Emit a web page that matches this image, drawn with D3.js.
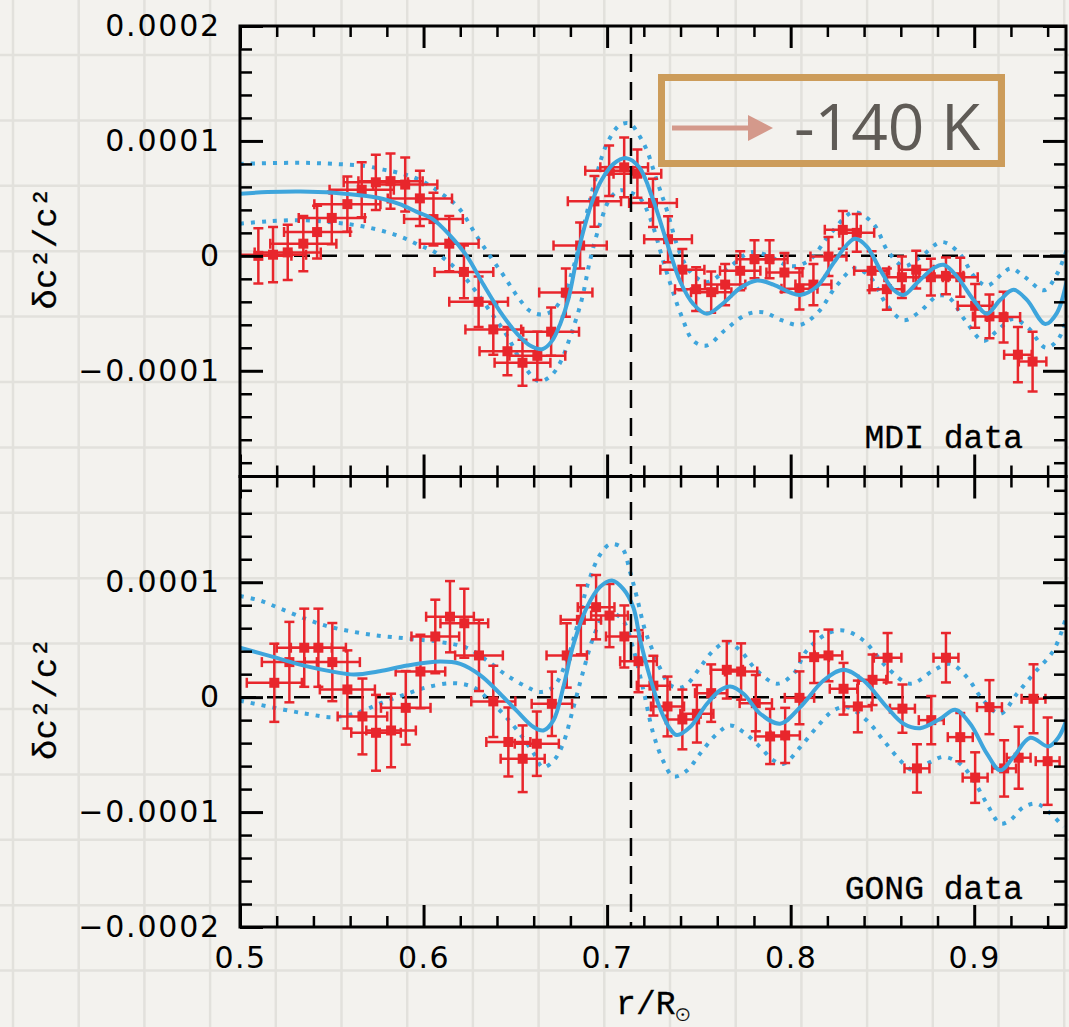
<!DOCTYPE html>
<html>
<head>
<meta charset="utf-8">
<script src="https://cdn.jsdelivr.net/npm/d3@7"></script>
<style>
  html, body { margin: 0; padding: 0; background: #f3f2ee; }
  svg { display: block; }
</style>
</head>
<body>
<div id="chart"></div>
<script>
// Width and height
var chart_width  = 1069;
var chart_height = 1027;

// radius of the base of the convection zone
var czBase = 0.713;

var xMajor = [0.5, 0.6, 0.7, 0.8, 0.9];

// MDI inversion points: r/R, dc2/c2 (units of 1e-5), vertical and radial errors
var mdiR = [0.510,0.518,0.526,0.5345,0.542,0.550,0.5585,0.5663,0.574,0.582,
            0.590,0.598,0.6054,0.614,0.622,0.630,0.638,0.6457,0.6539,0.662,
            0.6695,0.6775,0.6853,0.6931,0.7011,0.7093,0.7165,0.7250,0.7332,0.741,
            0.7485,0.7567,0.7643,0.7725,0.7803,0.7885,0.7966,0.8048,0.8124,0.8206,
            0.8284,0.836,0.8441,0.8524,0.8606,0.8684,0.8764,0.8846,0.8924,0.9005,
            0.9083,0.916,0.9238,0.9318];
var mdiV = [0.0,0.1,0.3,1.06,2.07,3.3,4.5,5.75,6.4,6.5,
            6.2,5.0,3.2,1.06,-1.4,-4.0,-6.4,-8.3,-9.3,-8.7,
            -6.6,-3.2,0.9,4.74,7.4,7.7,7.15,4.6,1.45,-1.2,
            -2.9,-3.16,-2.5,-1.3,-0.29,-0.29,-1.45,-2.87,-2.5,-0.06,
            2.26,2.0,-1.3,-2.9,-1.86,-1.2,-1.86,-1.74,-1.86,-4.35,
            -5.27,-5.33,-8.6,-9.2];
var mdiErr = [2.4,2.4,2.4,2.4,2.3,2.3,2.4,2.4,2.4,2.4,
              2.35,2.4,2.3,2.4,2.3,2.2,2.2,2.1,2.0,2.1,
              2.1,2.1,2.0,2.2,2.2,2.6,2.1,2.1,2.0,1.8,
              1.9,1.8,1.8,1.7,1.65,1.65,1.7,1.8,1.8,1.7,
              1.65,1.65,1.7,1.8,1.8,1.65,1.6,1.6,1.7,1.9,
              1.9,2.2,2.4,2.6];
var mdiRErr = [0.018,0.018,0.018,0.018,0.018,0.018,0.018,0.0175,0.0175,0.0175,
               0.0175,0.0175,0.016,0.016,0.016,0.016,0.0152,0.0152,0.0152,0.0152,
               0.0152,0.0145,0.0145,0.0145,0.013,0.013,0.013,0.013,0.013,0.012,
               0.0115,0.011,0.011,0.011,0.0098,0.0098,0.0098,0.0098,0.0098,0.0098,
               0.0098,0.0095,0.0095,0.0095,0.0095,0.0095,0.0095,0.0095,0.0095,0.0095,
               0.009,0.009,0.0075,0.0075];

// GONG inversion points
var gongR = [0.5187,0.5269,0.535,0.5427,0.5503,0.5585,0.5667,0.5741,0.5823,0.5903,
             0.5983,0.6064,0.6144,0.6222,0.6302,0.638,0.6462,0.654,0.6617,0.6699,
             0.678,0.6857,0.694,0.7013,0.7094,0.7171,0.7252,0.7329,0.741,0.7489,
             0.7567,0.7652,0.773,0.781,0.7888,0.797,0.8048,0.8128,0.8206,0.8288,
             0.8366,0.8446,0.8528,0.8609,0.8688,0.8766,0.8846,0.8924,0.9005,0.9083,
             0.9163,0.9242,0.9323,0.94];
var gongV = [1.25,3.05,4.3,4.3,3.05,0.67,-1.68,-3.1,-2.9,-0.93,
             2.23,5.28,7.0,6.43,3.63,-0.37,-3.9,-5.36,-4.05,-0.58,
             3.63,6.73,7.83,7.1,5.28,3.13,1.0,-0.81,-1.94,-1.45,
             0.35,2.38,2.23,-0.52,-3.42,-3.33,-0.06,3.48,3.63,0.73,
             -0.81,1.51,3.43,-1.0,-6.2,-2.0,3.43,-3.48,-7.0,-0.87,
             -6.2,-5.27,-0.14,-5.57];
var gongErr = [3.4,3.5,3.4,3.4,3.4,3.4,3.3,3.3,3.2,3.2,
               3.2,3.2,3.1,3.0,3.1,3.1,3.0,2.9,2.8,2.8,
               2.8,3.0,2.8,2.75,2.7,2.7,2.6,2.6,2.6,2.5,
               2.5,2.5,2.45,2.45,2.4,2.4,2.3,2.25,2.25,2.25,
               2.25,2.2,2.15,2.1,2.1,2.1,2.15,2.1,2.2,2.35,
               2.45,2.7,3.0,3.8];
var gongRErr = [0.015,0.015,0.015,0.015,0.015,0.015,0.0135,0.0135,0.0135,0.0135,
                0.0135,0.013,0.013,0.013,0.013,0.012,0.012,0.012,0.012,0.011,
                0.011,0.011,0.010,0.010,0.010,0.010,0.009,0.009,0.009,0.009,
                0.0088,0.0088,0.0088,0.0088,0.008,0.008,0.008,0.008,0.0075,0.0075,
                0.0075,0.0075,0.0075,0.0068,0.0068,0.0068,0.0068,0.0068,0.0068,0.0068,
                0.0065,0.0065,0.0065,0.0065];

// model difference curves [r, dc2/c2 in 1e-5], with upper / lower bounds
var mdiFit = [[0.500,5.40],[0.515,5.55],[0.533,5.60],[0.551,5.50],[0.569,5.20],[0.578,4.95],
  [0.587,4.50],[0.596,3.85],[0.605,3.20],[0.614,1.85],[0.6235,0.0],[0.6326,-2.5],[0.6417,-4.85],
  [0.6508,-6.75],[0.6585,-7.85],[0.6650,-8.10],[0.6700,-7.40],[0.6745,-5.90],[0.6790,-3.70],
  [0.6835,-0.2],[0.6880,2.7],[0.6925,5.0],[0.6970,6.6],[0.7035,8.0],[0.7105,8.5],[0.7175,7.7],
  [0.7250,4.9],[0.7325,1.2],[0.7400,-2.3],[0.7470,-4.2],[0.7543,-5.04],[0.7634,-4.1],
  [0.7725,-2.8],[0.7816,-2.14],[0.7906,-2.5],[0.7997,-3.19],[0.8052,-3.40],[0.8143,-2.67],
  [0.8233,-0.64],[0.8306,0.96],[0.8351,1.48],[0.8415,0.81],[0.8488,-1.22],[0.8560,-2.96],
  [0.8615,-3.40],[0.8688,-2.37],[0.8778,-1.07],[0.8833,-0.78],[0.8906,-1.80],[0.8996,-3.83],
  [0.9069,-5.04],[0.9142,-3.83],[0.9214,-2.96],[0.9287,-3.83],[0.9387,-5.94],[0.9450,-4.98],
  [0.9505,-2.10]];
var mdiHi = [[0.500,8.0],[0.533,8.1],[0.551,8.0],[0.569,7.8],[0.578,7.5],[0.587,7.2],[0.598,6.6],
  [0.609,5.5],[0.619,4.2],[0.629,1.7],[0.6370,-0.2],[0.6440,-1.8],[0.6510,-3.5],[0.6580,-4.8],
  [0.6640,-5.1],[0.6700,-4.8],[0.6760,-3.5],[0.6820,-0.8],[0.6880,3.1],[0.6935,6.6],[0.7000,9.8],
  [0.7071,11.4],[0.7125,11.5],[0.7170,10.6],[0.7216,9.2],[0.7270,6.6],[0.7325,4.0],[0.7398,0.2],
  [0.7460,-1.5],[0.7543,-2.3],[0.7650,-1.2],[0.7780,0.3],[0.7880,0.0],[0.8000,-0.9],[0.8100,-0.4],
  [0.8220,2.0],[0.8342,3.8],[0.8450,2.8],[0.8530,0.4],[0.8615,-0.9],[0.8700,-0.2],[0.8824,1.2],
  [0.8920,0.2],[0.9000,-1.8],[0.9070,-2.6],[0.9150,-1.6],[0.9200,-1.1],[0.9280,-1.9],[0.9380,-3.0],
  [0.9450,-1.6],[0.9510,0.8]];
var mdiLo = [[0.500,2.8],[0.515,3.0],[0.533,3.1],[0.551,2.9],[0.569,2.5],[0.587,1.7],[0.598,0.9],
  [0.6054,0.4],[0.614,-0.6],[0.622,-1.8],[0.629,-3.2],[0.6370,-5.0],[0.6453,-6.9],[0.6544,-9.5],
  [0.6626,-10.9],[0.6690,-10.5],[0.6744,-9.3],[0.6800,-7.0],[0.6862,-3.8],[0.6907,-0.4],
  [0.6962,2.8],[0.7016,5.0],[0.7070,5.7],[0.7130,5.5],[0.7180,5.0],[0.7234,3.3],[0.7320,-1.2],
  [0.7407,-5.3],[0.7470,-7.4],[0.7543,-7.8],[0.7640,-6.5],[0.7760,-5.1],[0.7850,-4.9],
  [0.7950,-5.6],[0.8052,-6.0],[0.8150,-4.9],[0.8250,-2.6],[0.8350,-1.1],[0.8430,-1.8],
  [0.8530,-4.4],[0.8615,-5.6],[0.8700,-4.9],[0.8800,-3.5],[0.8860,-3.6],[0.8950,-5.6],
  [0.9050,-7.4],[0.9120,-6.6],[0.9210,-5.5],[0.9290,-6.2],[0.9390,-8.0],[0.9460,-7.2],[0.9510,-5.0]];

var gongFit = [[0.500,4.3],[0.518,3.5],[0.536,2.7],[0.551,2.2],[0.562,1.97],[0.576,2.25],
  [0.591,2.75],[0.609,3.1],[0.620,2.9],[0.631,1.9],[0.6417,0.3],[0.6508,-1.2],[0.6599,-2.6],
  [0.6653,-2.9],[0.6708,-2.0],[0.6762,0.9],[0.6817,4.6],[0.6889,7.8],[0.6962,9.6],[0.7026,10.15],
  [0.7089,9.4],[0.7143,7.8],[0.7180,5.0],[0.7234,1.7],[0.7289,-1.0],[0.7343,-2.75],[0.7380,-3.3],
  [0.7452,-2.6],[0.7543,-0.6],[0.7616,0.6],[0.7670,0.93],[0.7743,0.3],[0.7834,-1.44],
  [0.7943,-2.31],[0.8052,-0.87],[0.8179,1.45],[0.8288,2.38],[0.8397,1.45],[0.8524,-0.87],
  [0.8615,-2.31],[0.8706,-2.7],[0.8815,-1.88],[0.8896,-1.1],[0.8978,-2.31],[0.9069,-4.92],
  [0.9142,-6.37],[0.9214,-5.2],[0.9305,-3.53],[0.9405,-4.29],[0.9460,-3.48],[0.9505,-1.88]];
var gongHi = [[0.500,8.8],[0.511,8.4],[0.522,7.7],[0.536,6.8],[0.547,6.2],[0.558,5.8],[0.573,5.4],
  [0.591,5.1],[0.609,4.8],[0.6235,4.3],[0.6344,3.2],[0.6453,1.9],[0.6562,0.9],[0.6635,0.45],
  [0.6708,0.9],[0.678,3.2],[0.6835,6.1],[0.6898,10.0],[0.6962,12.4],[0.7016,13.3],[0.708,13.0],
  [0.7125,10.9],[0.7162,8.7],[0.7207,5.8],[0.7252,3.9],[0.7289,2.5],[0.7340,1.1],[0.7390,0.8],
  [0.7434,1.1],[0.7507,2.6],[0.7579,4.06],[0.7652,4.78],[0.7725,4.06],[0.7816,2.32],[0.7925,1.17],
  [0.8015,2.03],[0.8088,4.06],[0.8197,5.5],[0.8288,5.8],[0.8397,4.93],[0.8524,2.6],[0.8651,1.17],
  [0.8778,2.32],[0.8869,2.9],[0.8960,1.74],[0.9050,-0.29],[0.9142,-1.44],[0.9233,0.3],
  [0.9323,2.03],[0.9432,4.06],[0.9496,6.67]];
var gongLo = [[0.500,-0.3],[0.518,-0.9],[0.536,-1.44],[0.551,-1.74],[0.565,-1.3],[0.576,-0.57],
  [0.591,0.3],[0.602,0.87],[0.616,1.22],[0.627,0.87],[0.636,-0.29],[0.645,-1.74],[0.654,-3.5],
  [0.660,-4.9],[0.665,-6.1],[0.671,-5.5],[0.676,-4.05],[0.6817,-0.87],[0.6871,2.32],[0.6925,5.2],
  [0.6980,7.0],[0.7034,7.3],[0.7090,6.6],[0.7143,4.2],[0.7198,0.6],[0.7252,-3.2],[0.7307,-5.6],
  [0.7361,-6.9],[0.7434,-6.4],[0.7507,-4.9],[0.7598,-3.2],[0.7670,-2.46],[0.7743,-3.04],
  [0.7834,-4.35],[0.7906,-5.5],[0.7961,-5.8],[0.8052,-4.35],[0.8143,-2.6],[0.8233,-1.16],
  [0.8306,-0.87],[0.8415,-2.03],[0.8506,-3.77],[0.8615,-5.8],[0.8669,-6.37],[0.8760,-5.65],
  [0.8833,-5.2],[0.8924,-5.8],[0.8996,-7.24],[0.9069,-9.27],[0.9142,-11.0],[0.9196,-10.7],
  [0.9269,-9.57],[0.9341,-9.27],[0.9414,-10.1],[0.9487,-11.3]];

var blue = '#3ea5dc';
var red  = '#e8262c';
var monoFont = "'Liberation Mono', 'Courier New', Cousine, FreeMono, monospace";
var tickFont = "'DejaVu Sans', sans-serif";

var x = d3.scaleLinear().domain([0.5, 0.95]).range([240, 1066]);

var panels = [
  { id: 'mdi',  y0: 26,    y1: 476.5, domain: [-19.2, 20], ticks: [-10, 0, 10, 20], label: 'MDI data',
    r: mdiR, v: mdiV, err: mdiErr, rerr: mdiRErr, fit: mdiFit, hi: mdiHi, lo: mdiLo, xLabels: false },
  { id: 'gong', y0: 476.5, y1: 927,   domain: [-20, 19.2], ticks: [-20, -10, 0, 10], label: 'GONG data',
    r: gongR, v: gongV, err: gongErr, rerr: gongRErr, fit: gongFit, hi: gongHi, lo: gongLo, xLabels: true }
];

var svg = d3.select('#chart')
    .append('svg')
    .attr('width', chart_width)
    .attr('height', chart_height);

// graph paper background
var defs = svg.append('defs');
defs.append('filter').attr('id', 'soft')
    .append('feGaussianBlur').attr('stdDeviation', 0.7);

svg.append('rect')
    .attr('width', chart_width)
    .attr('height', chart_height)
    .attr('fill', '#f3f2ee');
var paper = svg.append('g')
    .attr('stroke', '#e2e1dc')
    .attr('stroke-width', 2.5)
    .attr('filter', 'url(#soft)');
d3.range(13, chart_width, 65.7).forEach(function(px){
    paper.append('line').attr('x1', px).attr('x2', px).attr('y1', 0).attr('y2', chart_height);
});
d3.range(55, chart_height, 65.4).forEach(function(py){
    paper.append('line').attr('y1', py).attr('y2', py).attr('x1', 0).attr('x2', chart_width);
});

function fmtY(d){
    if (d === 0) return '0';
    return (d < 0 ? '\u2212' : '') + Math.abs(d * 1e-5).toFixed(4);
}

var xMinor = d3.range(25, 48).map(function(k){ return k / 50; })
    .filter(function(t){ return Math.round(t * 100) % 10 !== 0; });

function styleTicks(g, w){
    g.select('.domain').remove();
    g.selectAll('.tick line').attr('stroke', '#000').attr('stroke-width', w);
}

panels.forEach(function(p){
    var y = d3.scaleLinear().domain(p.domain).range([p.y1, p.y0]);
    var yMinor = d3.range(-20, 21, 2).filter(function(t){
        return t % 10 !== 0 && t >= p.domain[0] && t <= p.domain[1];
    });

    var clipId = 'clip-' + p.id;
    defs.append('clipPath').attr('id', clipId)
        .append('rect')
        .attr('x', x(0.5)).attr('y', p.y0)
        .attr('width', x(0.95) - x(0.5)).attr('height', p.y1 - p.y0);

    var plot = svg.append('g').attr('clip-path', 'url(#' + clipId + ')');

    // zero line
    plot.append('line')
        .attr('x1', x(0.5)).attr('x2', x(0.95))
        .attr('y1', y(0)).attr('y2', y(0))
        .attr('stroke', '#000').attr('stroke-width', 2.5)
        .attr('stroke-dasharray', '16,11');

    var line = d3.line()
        .x(function(d){ return x(d[0]); })
        .y(function(d){ return y(d[1]); })
        .curve(d3.curveCatmullRom.alpha(0.5));

    [p.hi, p.lo].forEach(function(c){
        plot.append('path')
            .attr('d', line(c))
            .attr('fill', 'none')
            .attr('stroke', blue)
            .attr('stroke-width', 4)
            .attr('stroke-dasharray', '4,7');
    });

    // error bars with caps
    var pts = p.r.map(function(r, i){
        return { r: r, v: p.v[i], e: p.err[i], re: p.rerr[i] };
    });
    var bars = plot.append('g').attr('stroke', red).attr('stroke-width', 2.5);
    pts.forEach(function(d){
        var cx = x(d.r), cy = y(d.v);
        var xl = x(d.r - d.re), xr = x(d.r + d.re);
        var yt = y(d.v + d.e), yb = y(d.v - d.e);
        bars.append('line').attr('x1', xl).attr('x2', xr).attr('y1', cy).attr('y2', cy);
        bars.append('line').attr('x1', cx).attr('x2', cx).attr('y1', yt).attr('y2', yb);
        bars.append('line').attr('x1', xl).attr('x2', xl).attr('y1', cy - 5).attr('y2', cy + 5);
        bars.append('line').attr('x1', xr).attr('x2', xr).attr('y1', cy - 5).attr('y2', cy + 5);
        bars.append('line').attr('x1', cx - 5).attr('x2', cx + 5).attr('y1', yt).attr('y2', yt);
        bars.append('line').attr('x1', cx - 5).attr('x2', cx + 5).attr('y1', yb).attr('y2', yb);
    });
    plot.selectAll('rect.pt')
        .data(pts)
        .enter()
        .append('rect')
        .attr('class', 'pt')
        .attr('x', function(d){ return x(d.r) - 5; })
        .attr('y', function(d){ return y(d.v) - 5; })
        .attr('width', 10).attr('height', 10)
        .attr('fill', red);

    plot.append('path')
        .attr('d', line(p.fit))
        .attr('fill', 'none')
        .attr('stroke', blue)
        .attr('stroke-width', 4);

    // ticks on all four sides, pointing inwards
    svg.append('g').attr('transform', 'translate(' + x(0.5) + ',0)')
        .call(d3.axisLeft(y).tickValues(yMinor).tickSize(-12).tickFormat(''))
        .call(styleTicks, 2.5);
    var yAxis = svg.append('g').attr('transform', 'translate(' + x(0.5) + ',0)')
        .call(d3.axisLeft(y).tickValues(p.ticks).tickSize(-23).tickPadding(19).tickFormat(fmtY))
        .call(styleTicks, 3);
    yAxis.selectAll('text')
        .attr('font-family', tickFont)
        .attr('font-size', 30)
        .attr('letter-spacing', 1.8)
        .attr('fill', '#000');

    svg.append('g').attr('transform', 'translate(' + x(0.95) + ',0)')
        .call(d3.axisRight(y).tickValues(yMinor).tickSize(-12).tickFormat(''))
        .call(styleTicks, 2.5);
    svg.append('g').attr('transform', 'translate(' + x(0.95) + ',0)')
        .call(d3.axisRight(y).tickValues(p.ticks).tickSize(-23).tickFormat(''))
        .call(styleTicks, 3);

    svg.append('g').attr('transform', 'translate(0,' + p.y0 + ')')
        .call(d3.axisTop(x).tickValues(xMinor).tickSize(-11).tickFormat(''))
        .call(styleTicks, 2.5);
    svg.append('g').attr('transform', 'translate(0,' + p.y0 + ')')
        .call(d3.axisTop(x).tickValues(xMajor).tickSize(-22).tickFormat(''))
        .call(styleTicks, 3);

    svg.append('g').attr('transform', 'translate(0,' + p.y1 + ')')
        .call(d3.axisBottom(x).tickValues(xMinor).tickSize(-11).tickFormat(''))
        .call(styleTicks, 2.5);
    var xAxis = svg.append('g').attr('transform', 'translate(0,' + p.y1 + ')')
        .call(d3.axisBottom(x).tickValues(xMajor).tickSize(-22).tickPadding(20)
            .tickFormat(p.xLabels ? d3.format('.1f') : ''))
        .call(styleTicks, 3);
    xAxis.selectAll('text')
        .attr('font-family', tickFont)
        .attr('font-size', 30)
        .attr('letter-spacing', 1.5)
        .attr('fill', '#000');

    // frame
    svg.append('rect')
        .attr('x', x(0.5)).attr('y', p.y0)
        .attr('width', x(0.95) - x(0.5)).attr('height', p.y1 - p.y0)
        .attr('fill', 'none')
        .attr('stroke', '#000')
        .attr('stroke-width', 3);

    svg.append('text')
        .attr('x', 1023).attr('y', p.y1 - 28.5)
        .attr('text-anchor', 'end')
        .attr('font-family', monoFont)
        .attr('font-size', 33)
        .attr('stroke', '#000').attr('stroke-width', 0.3)
        .text(p.label);

    svg.append('text')
        .attr('transform', 'translate(56,' + ((p.y0 + p.y1) / 2 - 3) + ') rotate(-90)')
        .attr('text-anchor', 'middle')
        .attr('font-family', monoFont)
        .attr('font-size', 34)
        .attr('stroke', '#000').attr('stroke-width', 0.3)
        .text('\u03b4c\u00b2/c\u00b2');
});

// base of the convection zone
svg.append('line')
    .attr('x1', x(czBase)).attr('x2', x(czBase))
    .attr('y1', 26).attr('y2', 927)
    .attr('stroke', '#000').attr('stroke-width', 2.5)
    .attr('stroke-dasharray', '18,10');

// x axis title
var xt = svg.append('text')
    .attr('x', (x(0.5) + x(0.95)) / 2).attr('y', 1014)
    .attr('text-anchor', 'middle')
    .attr('font-family', monoFont)
    .attr('font-size', 33)
    .attr('stroke', '#000').attr('stroke-width', 0.3);
xt.append('tspan').text('r/R');
xt.append('tspan').attr('dy', 7).attr('font-size', 24).attr('stroke-width', 0.2).text('\u2299');

// temperature annotation
var note = svg.append('g');
note.append('rect')
    .attr('x', 661.5).attr('y', 77.5)
    .attr('width', 340).attr('height', 86)
    .attr('fill', 'none')
    .attr('stroke', '#cc9c5a')
    .attr('stroke-width', 7);
note.append('line')
    .attr('x1', 672).attr('x2', 752)
    .attr('y1', 128).attr('y2', 128)
    .attr('stroke', '#d4998b')
    .attr('stroke-width', 5);
note.append('path')
    .attr('d', 'M748,115 L773,128 L748,141 Z')
    .attr('fill', '#d4998b');
note.append('text')
    .attr('x', 794).attr('y', 150)
    .attr('font-family', "'Open Sans', 'Noto Sans', sans-serif")
    .attr('font-size', 64)
    .attr('fill', '#5f5b56')
    .text('-140 K');
</script>
</body>
</html>
